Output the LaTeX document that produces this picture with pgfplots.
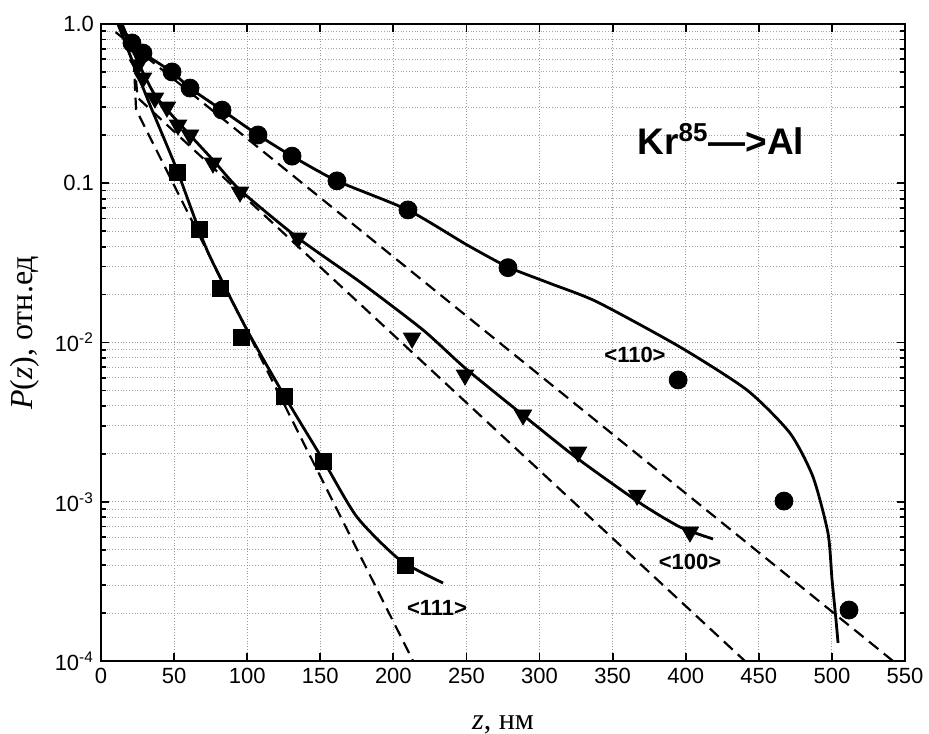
\documentclass[border=0pt]{standalone}
\usepackage{fontspec}
\setmainfont{Liberation Sans}
\newfontfamily\serif{Liberation Serif}
\usepackage{pgfplots}
\pgfplotsset{compat=1.18}

\begin{document}
\begin{tikzpicture}
\begin{axis}[
    scale only axis,
    width=402pt, height=318.5pt,
    ymode=log,
    xmin=0, xmax=550,
    ymin=1e-4, ymax=1,
    xtick={0,50,...,550},
    ytick={1e-4,1e-3,1e-2,1e-1,1},
    yticklabels={10\textsuperscript{-4},10\textsuperscript{-3},10\textsuperscript{-2},0.1,1.0},
    minor ytick={2e-4,3e-4,4e-4,5e-4,6e-4,7e-4,8e-4,9e-4,
                 2e-3,3e-3,4e-3,5e-3,6e-3,7e-3,8e-3,9e-3,
                 2e-2,3e-2,4e-2,5e-2,6e-2,7e-2,8e-2,9e-2,
                 0.2,0.3,0.4,0.5,0.6,0.7,0.8,0.9},
    /pgf/number format/assume math mode=true,
    tick align=inside,
    major tick length=4pt,
    minor tick length=2.5pt,
    grid=both,
    major grid style={densely dotted, gray!80, line width=0.5pt},
    minor grid style={densely dotted, gray!70, line width=0.5pt},
    axis line style={line width=1.4pt},
    tick style={black, line width=0.9pt},
    ticklabel style={font=\fontsize{11}{13}\selectfont},
    xlabel={\serif\fontsize{15}{17}\selectfont\textit{z}, нм},
    xlabel shift=9pt,
    ylabel={\serif\fontsize{16}{18}\selectfont\textit{P}(\textit{z}), отн.ед},
    ylabel style={at={(ticklabel cs:0.515)}},
    ylabel shift=1pt,
]
\coordinate (bl) at (rel axis cs:0,0);
\coordinate (tr) at (rel axis cs:1,1);

% <110>
\addplot[black, line width=1.4pt, smooth, tension=0.4] coordinates {
(13.0,1.0) (21.2,0.760) (28.7,0.657) (48.6,0.4995) (60.9,0.396) (82.8,0.288)
(107.4,0.201) (130.7,0.148) (161.4,0.1035) (210.0,0.0679) (250.4,0.0410)
(278.4,0.0298) (307.2,0.0235) (339.3,0.0180) (396.1,0.00937) (441.9,0.00503)
(471.3,0.00270) (487.1,0.00143) (497.3,6.37e-4) (500.1,3.23e-4) (502.8,1.81e-4)
(504.2,1.30e-4)
};
% <100>
\addplot[black, line width=1.4pt, smooth, tension=0.4] coordinates {
(14.4,1.0) (25.3,0.577) (36.9,0.358) (52.7,0.2424) (76.6,0.140) (95.1,0.0907)
(134.8,0.0453) (177.2,0.0240) (220.3,0.01199) (249.0,0.00692) (288.7,0.00350)
(325.6,0.00188) (368.7,9.82e-4) (396.1,6.94e-4) (418.7,5.84e-4)
};
% <111>
\addplot[black, line width=1.4pt, smooth, tension=0.4] coordinates {
(11.6,1.0) (21.2,0.594) (33.5,0.310) (52.0,0.1211) (72.5,0.0381) (99.9,0.01199)
(125.9,0.00455) (151.9,0.00183) (175.1,8.02e-4) (204.5,4.31e-4) (234.0,3.09e-4)
};

% dashed lines
\addplot[black, line width=1.1pt, dash pattern=on 6pt off 3.5pt] coordinates {
(10,0.889) (541.8,1e-4)
};
\addplot[black, line width=1.1pt, dash pattern=on 6pt off 3.5pt] coordinates {
(13,0.95) (22,0.72) (25,0.345) (440.5,1e-4)
};
\addplot[black, line width=1.1pt, dash pattern=on 6pt off 3.5pt] coordinates {
(12,0.97) (22,0.70) (24,0.29) (213.5,1e-4)
};

% markers
\addplot[only marks, mark=*, mark size=4.5pt, black] coordinates {
(21.2,0.76) (28.7,0.657) (48.6,0.50) (60.9,0.396) (82.8,0.288) (107.4,0.201)
(130.7,0.148) (161.4,0.1035) (210,0.068) (278.4,0.0295) (394.8,0.00582)
(467.2,0.00101) (511.7,2.09e-4)
};
\addplot[only marks, mark=triangle*, mark size=5pt, black, mark options={rotate=180}] coordinates {
(25.3,0.553) (28.7,0.458) (36.9,0.343) (45.1,0.301) (52.7,0.232) (60.9,0.201)
(76.6,0.134) (95.1,0.0881) (134.8,0.0453) (212.8,0.01067) (249,0.00625)
(288.7,0.00351) (326.3,0.00205) (366.7,0.0011) (402.9,6.46e-4)
};
\addplot[only marks, mark=square*, mark size=4pt, black] coordinates {
(52,0.1177) (67,0.0516) (81.4,0.022) (95.8,0.0108) (125.2,0.00461)
(151.9,0.00178) (208,4.0e-4)
};

\node[yshift=2pt] at (axis cs:424,0.179) {\bfseries\fontsize{18.5}{21}\selectfont Kr\textsuperscript{85}—>Al};
\node at (axis cs:365.3,0.00835) {\bfseries\fontsize{11}{13}\selectfont <110>};
\node at (axis cs:402.9,4.18e-4) {\bfseries\fontsize{11}{13}\selectfont <100>};
\node at (axis cs:229.9,2.15e-4) {\bfseries\fontsize{11}{13}\selectfont <111>};

\end{axis}
\pgfresetboundingbox
\path ([shift={(-50.5pt,-36pt)}]bl) rectangle ([shift={(12pt,12pt)}]tr);
\end{tikzpicture}
\end{document}
